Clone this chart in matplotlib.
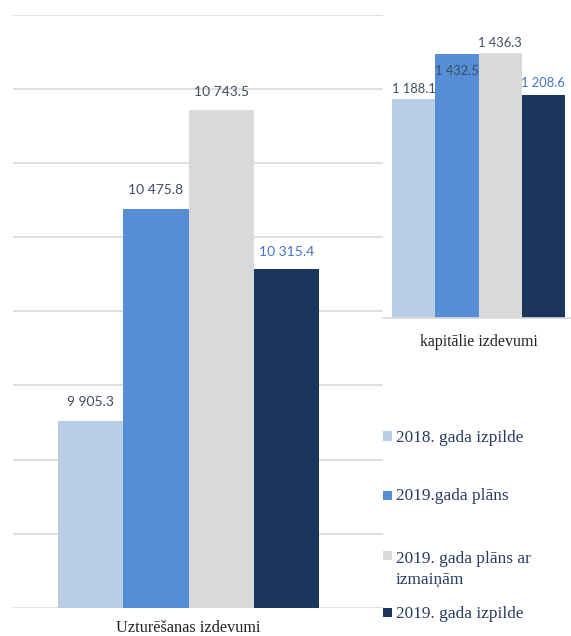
import matplotlib
matplotlib.use("Agg")
import matplotlib.pyplot as plt
from matplotlib.patches import Rectangle

# ---- data ----
series = ["2018. gada izpilde", "2019.gada plāns",
          "2019. gada plāns ar\nizmaiņām", "2019. gada izpilde"]
maint_values = [9905.3, 10475.8, 10743.5, 10315.4]
capital_values = [1188.1, 1432.5, 1436.3, 1208.6]
maint_labels = ["9 905.3", "10 475.8", "10 743.5", "10 315.4"]
capital_labels = ["1 188.1", "1 432.5", "1 436.3", "1 208.6"]
maint_category = "Uzturēšanas izdevumi"
capital_category = "kapitālie izdevumi"

# ---- styles ----
colors = ["#B9CDE5", "#558ED5", "#D9D9D9", "#1A365D"]
label_colors = ["#3E4D66", "#3E4D66", "#3E4D66", "#4472C4"]
maint_offsets = [19, 19, 18, 17]          # pixels above bar top
capital_offsets = [10, -17, 10, 12]
grid_color = "#D9D9D9"
legend_text_color = "#263A63"

W, H = 571, 636
fig = plt.figure(figsize=(W / 100, H / 100), dpi=100)

def fx(px):
    return px / W

def fy(py):
    return 1 - py / H

# ---- main chart ----
ax = fig.add_axes([fx(13), fy(607.7), fx(383 - 13), fy(15) - fy(607.7)])
pos = list(range(len(maint_values)))
ax.bar(pos, maint_values, width=1.0, color=colors, zorder=2)
ax.set_ylim(9400, 11000)
ax.set_xlim(-1.19, 4.48)
ax.set_yticks([9400 + 200 * i for i in range(9)])
ax.yaxis.grid(True, color=grid_color, linewidth=1.2, zorder=0)
ax.tick_params(left=False, bottom=False, labelleft=False, labelbottom=False)
for s in ax.spines.values():
    s.set_visible(False)
for p, v, t, c, o in zip(pos, maint_values, maint_labels, label_colors, maint_offsets):
    ax.annotate(t, (p, v), xytext=(0, o), textcoords="offset pixels",
                ha="center", va="center", fontsize=10, family="Lato", color=c)
ax.text(1.5, -0.02, maint_category, transform=ax.get_xaxis_transform(),
        ha="center", va="top", fontsize=11.7, family="Liberation Serif",
        color="#222222")

# ---- inset chart ----
ax2 = fig.add_axes([fx(383), fy(318), fx(571 - 383), fy(22.8) - fy(318)])
ax2.set_facecolor("white")
ax2.bar(pos, capital_values, width=1.0, color=colors, zorder=2)
ax2.set_ylim(0, 1600)
ax2.set_xlim(-0.71, 3.64)
ax2.tick_params(left=False, bottom=False, labelleft=False, labelbottom=False)
for name, s in ax2.spines.items():
    if name == "bottom":
        s.set_color(grid_color)
        s.set_linewidth(1.2)
    else:
        s.set_visible(False)
for p, v, t, c, o in zip(pos, capital_values, capital_labels, label_colors, capital_offsets):
    ax2.annotate(t, (p, v), xytext=(0, o), textcoords="offset pixels",
                 ha="center", va="center", fontsize=9.3, family="Lato", color=c,
                 zorder=5)
ax2.text(1.5, -0.055, capital_category, transform=ax2.get_xaxis_transform(),
         ha="center", va="top", fontsize=11.4, family="Liberation Serif",
         color="#222222")

# ---- legend (manual) ----
marker_y = [436, 495, 555, 612]
line_px = 23
for lbl, col, my in zip(series, colors, marker_y):
    fig.patches.append(Rectangle((fx(383), fy(my + 4.5)), fx(9), fy(my - 4.5) - fy(my + 4.5),
                                 transform=fig.transFigure, facecolor=col,
                                 edgecolor="none"))
    extra = lbl.count("\n") * line_px
    fig.text(fx(396), fy(my + 5.5 + extra), lbl, ha="left", va="baseline",
             fontsize=12.4, family="Liberation Serif", color=legend_text_color,
             linespacing=1.35)

fig.savefig("out.png", dpi=100, facecolor="white")
